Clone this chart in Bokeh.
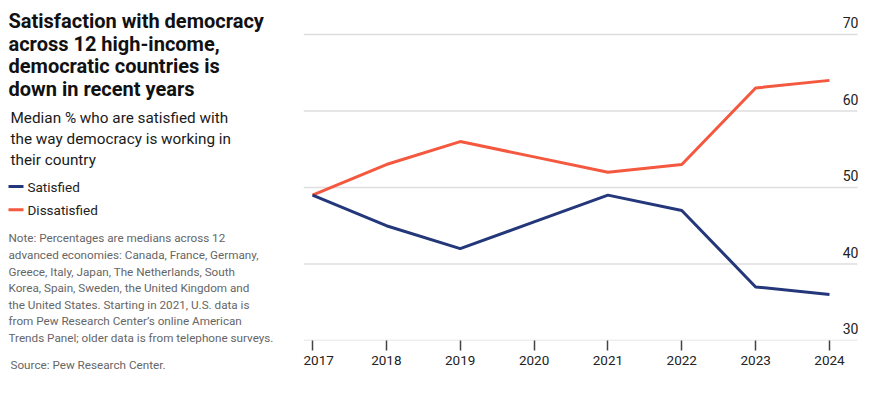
from bokeh.plotting import figure
from bokeh.layouts import row
from bokeh.models import Range1d, FixedTicker, ColumnDataSource
from bokeh.core.properties import value
from bokeh.embed import file_html
from bokeh.resources import INLINE

# ---- data ----
years = [2017, 2018, 2019, 2020, 2021, 2022, 2023, 2024]
satisfied = [49, 45, 42, 45.5, 49, 47, 37, 36]
dissatisfied = [49, 53, 56, 54, 52, 53, 63, 64]
y_ticks = [30, 40, 50, 60, 70]
y_tick_labels = ["30", "40", "50", "60", "70"]
series_names = ["Satisfied", "Dissatisfied"]

title_lines = ["Satisfaction with democracy", "across 12 high-income,",
               "democratic countries is", "down in recent years"]
subtitle_lines = ["Median % who are satisfied with",
                  "the way democracy is working in", "their country"]
note_lines = ["Note: Percentages are medians across 12",
              "advanced economies: Canada, France, Germany,",
              "Greece, Italy, Japan, The Netherlands, South",
              "Korea, Spain, Sweden, the United Kingdom and",
              "the United States. Starting in 2021, U.S. data is",
              "from Pew Research Center\u2019s online American",
              "Trends Panel; older data is from telephone surveys."]
source_text = "Source: Pew Research Center."

NAVY = "#23377a"
RED = "#f4583f"
FONT = "Roboto"

# ---- layout constants (page pixels) ----
H = 390
LW = 303            # width of the text panel on the left
RW = 563            # width of the chart
X0, X1 = 2016.878, 2024.447
GRID_END, LABEL_X = 2024.379, 2024.392
PX_PER_UNIT = 7.65

# ---- left text panel ----
left = figure(width=LW, height=H, output_backend="svg", toolbar_location=None,
              x_range=Range1d(0, LW), y_range=Range1d(H, 0),
              x_axis_location=None, y_axis_location=None,
              min_border=0, outline_line_color=None, frame_align=False)
left.grid.visible = False


def lines(txts, x, y0, dy, size, color, style="normal"):
    left.text(x=[x] * len(txts), y=[y0 + dy * i for i in range(len(txts))], text=txts,
              text_font=value(FONT), text_font_size=size, text_font_style=style,
              text_color=color, text_baseline="middle")


lines(title_lines, 8, 20.5, 22.7, "20px", "#111111", "bold")
lines(subtitle_lines, 10, 117.8, 20.8, "15.3px", "#1a1a1a")
leg_y = [186, 209.3]
for nm, col, yy in zip(series_names, [NAVY, RED], leg_y):
    left.segment(x0=[8], y0=[yy], x1=[23], y1=[yy], line_color=col, line_width=3)
    lines([nm], 27, yy, 0, "13.5px", "#222222")
lines(note_lines, 8, 237.8, 16.6, "11.7px", "#666666")
lines([source_text], 10, 364.5, 0, "11.7px", "#666666")

# ---- chart ----
p = figure(width=RW, height=H, output_backend="svg", toolbar_location=None,
           x_range=Range1d(X0, X1), y_range=Range1d(30, 74.44),
           y_axis_location=None, min_border_left=0, min_border_right=4,
           min_border_top=0, min_border_bottom=50, outline_line_color=None,
           frame_align=False)
p.grid.visible = False

p.segment(x0=[X0] * len(y_ticks), y0=y_ticks, x1=[GRID_END] * len(y_ticks), y1=y_ticks,
          line_color="#dedede", line_width=1.4)
p.text(x=[LABEL_X] * len(y_ticks), y=[t + 11.5 / PX_PER_UNIT for t in y_ticks],
       text=y_tick_labels, text_font=value(FONT), text_font_size="14px",
       text_color="#222222", text_align="right", text_baseline="middle")

src = ColumnDataSource(dict(year=years, sat=satisfied, dis=dissatisfied))
p.line("year", "dis", source=src, line_color=RED, line_width=3)
p.line("year", "sat", source=src, line_color=NAVY, line_width=3)

ax = p.xaxis[0]
ax.ticker = FixedTicker(ticks=years)
ax.axis_line_color = None
ax.major_tick_in = 0
ax.major_tick_out = 10
ax.major_tick_line_color = "#444444"
ax.major_tick_line_width = 1.5
ax.minor_tick_line_color = None
ax.major_label_text_font = FONT
ax.major_label_text_font_size = "13.5px"
ax.major_label_text_color = "#222222"
ax.major_label_standoff = 5

layout = row(left, p, spacing=0)
open("out.html", "w").write(file_html(layout, INLINE))
